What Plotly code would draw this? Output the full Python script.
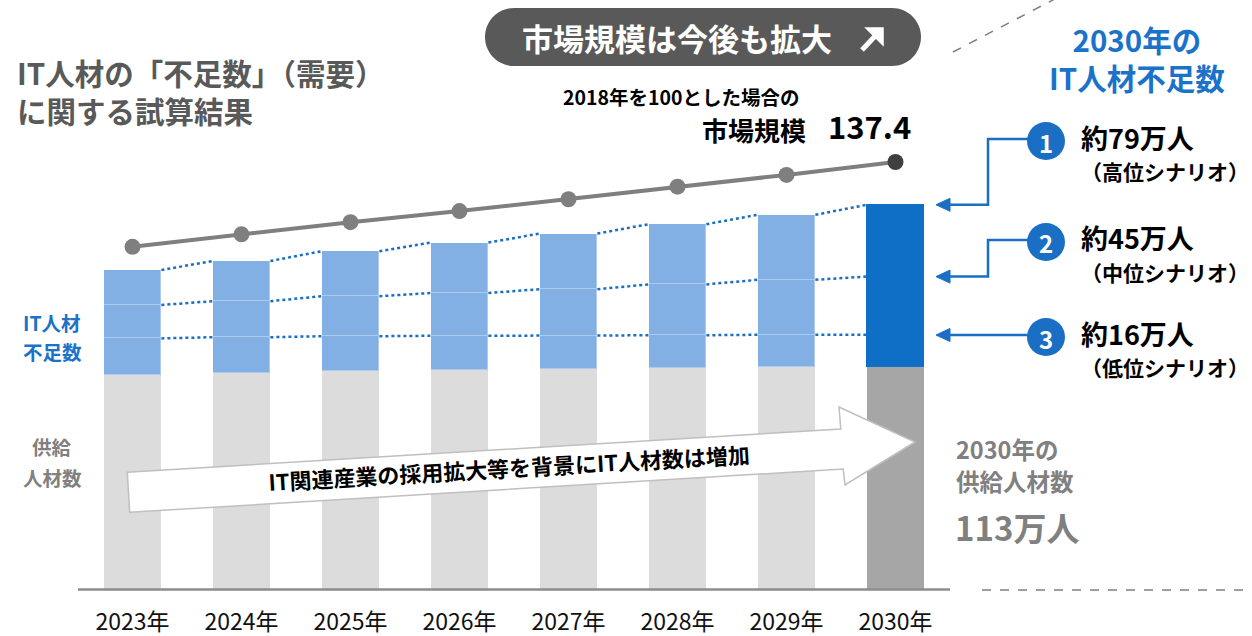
import plotly.graph_objects as go

# ---------------- data ----------------
years = ["2023年", "2024年", "2025年", "2026年", "2027年", "2028年", "2029年", "2030年"]
supply = [107.5, 108.5, 109.5, 110.0, 110.4, 110.9, 111.4, 111.7]       # 供給人材数
short_low = [18.3, 17.9, 17.4, 17.1, 16.8, 16.5, 16.2, 15.9]             # 不足数 低位
short_mid = [35.0, 35.9, 37.4, 38.5, 40.0, 41.9, 43.7, 45.0]             # 不足数 中位
short_high = [52.5, 56.0, 59.9, 63.7, 67.8, 72.0, 76.2, 80.9]            # 不足数 高位
market = [113.7, 117.2, 120.6, 123.7, 127.0, 130.5, 133.8, 137.4]        # 市場規模 (2018=100)

scenario_labels = ["約79万人", "約45万人", "約16万人"]
scenario_names = ["（高位シナリオ）", "（中位シナリオ）", "（低位シナリオ）"]

# ---------------- style ----------------
FONT = "Noto Sans CJK JP"
GRAY_BAR = "#DCDCDC"
GRAY_BAR_30 = "#A6A6A6"
BLUE_BAR = "#83B0E4"
BLUE_BAR_30 = "#0F6EC6"
BLUE = "#1A6EC4"
DARK = "#595959"

n = len(years)
xs = list(range(n))
BW = 0.53
last = n - 1

# plot area in pixels
PL, PW, PT, PH = 78, 872, 0, 590
YMAX = 295.0
Y2MIN, Y2MAX = 17.85, 182.65


def xp(px):
    return (px - PL) / PW


def yp(py):
    return (PT + PH - py) / PH


def P(px, py):
    return f"{xp(px):.5f},{yp(py):.5f}"


fig = go.Figure()

supply_col = [GRAY_BAR] * (n - 1) + [GRAY_BAR_30]
blue_col = [BLUE_BAR] * (n - 1) + [BLUE_BAR_30]
blue_line = ["rgba(255,255,255,0.35)"] * (n - 1) + [BLUE_BAR_30]

seg1 = short_low
seg2 = [m - l for m, l in zip(short_mid, short_low)]
seg3 = [h - m for h, m in zip(short_high, short_mid)]

fig.add_trace(go.Bar(x=xs, y=supply, width=BW, marker=dict(color=supply_col, line=dict(width=0)),
                     hoverinfo="skip", showlegend=False))
for seg in (seg1, seg2, seg3):
    fig.add_trace(go.Bar(x=xs, y=seg, width=BW,
                         marker=dict(color=blue_col, line=dict(color=blue_line, width=1)),
                         hoverinfo="skip", showlegend=False))

# dotted connectors between bars at each scenario level
hw = BW / 2
for sh in (short_low, short_mid, short_high):
    level = [s + v for s, v in zip(supply, sh)]
    lx, ly = [], []
    for i in range(n - 1):
        lx += [i + hw, i + 1 - hw, None]
        ly += [level[i], level[i + 1], None]
    fig.add_trace(go.Scatter(x=lx, y=ly, mode="lines", line=dict(color=BLUE, width=2.5, dash="dot"),
                             hoverinfo="skip", showlegend=False))

# market size line
fig.add_trace(go.Scatter(x=xs, y=market, yaxis="y2", mode="lines+markers",
                         line=dict(color="#7F7F7F", width=4),
                         marker=dict(size=16, color=["#7F7F7F"] * (n - 1) + ["#3F3F3F"]),
                         hoverinfo="skip", showlegend=False))

shapes = []
annotations = []


def rounded_rect(x0, y0, x1, y1, r):
    k = 0.5523 * r
    return ("M" + P(x0 + r, y0) + " L" + P(x1 - r, y0) +
            " C" + P(x1 - r + k, y0) + " " + P(x1, y0 + r - k) + " " + P(x1, y0 + r) +
            " L" + P(x1, y1 - r) +
            " C" + P(x1, y1 - r + k) + " " + P(x1 - r + k, y1) + " " + P(x1 - r, y1) +
            " L" + P(x0 + r, y1) +
            " C" + P(x0 + r - k, y1) + " " + P(x0, y1 - r + k) + " " + P(x0, y1 - r) +
            " L" + P(x0, y0 + r) +
            " C" + P(x0, y0 + r - k) + " " + P(x0 + r - k, y0) + " " + P(x0 + r, y0) + " Z")


def text(px, py, s, size, color, anchor="left", align="left"):
    annotations.append(dict(x=xp(px), y=yp(py), xref="paper", yref="paper", showarrow=False,
                            text=s, font=dict(size=size, color=color, family=FONT),
                            xanchor=anchor, yanchor="middle", align=align, borderpad=0))


# x axis base line
shapes.append(dict(type="line", xref="paper", yref="paper", x0=0, x1=1, y0=yp(589.5), y1=yp(589.5),
                   line=dict(color="#8C8C8C", width=2.5), layer="above"))

# pill header
shapes.append(dict(type="path", xref="paper", yref="paper", path=rounded_rect(485, 8, 921, 66, 29),
                   fillcolor=DARK, line=dict(width=0), layer="above"))
text(521, 38, "<b>市場規模は今後も拡大</b>", 31, "white")
# bold north-east arrow icon
shapes.append(dict(type="path", xref="paper", yref="paper",
                   path="M" + P(862, 50) + " L" + P(878, 33),
                   line=dict(color="white", width=5), layer="above"))
shapes.append(dict(type="path", xref="paper", yref="paper",
                   path="M" + P(866, 28) + " L" + P(883, 28) + " L" + P(883, 45) + " Z",
                   fillcolor="white", line=dict(color="white", width=1.5), layer="above"))

# big slanted arrow
arrow_pts = [(127.3, 472.3), (840.8, 429.0), (839.0, 407.0), (915.0, 442.0),
             (845.0, 485.0), (843.2, 469.0), (129.7, 512.3)]
apath = "M" + " L".join(P(x, y) for x, y in arrow_pts) + " Z"
shapes.append(dict(type="path", xref="paper", yref="paper", path=apath, fillcolor="white",
                   line=dict(color="#BFBFBF", width=1.5), layer="above"))
annotations.append(dict(x=xp(509), y=yp(467), xref="paper", yref="paper", showarrow=False,
                        text="<b>IT関連産業の採用拡大等を背景にIT人材数は増加</b>", textangle=-3.3,
                        font=dict(size=22, color="black", family=FONT), xanchor="center", yanchor="middle"))

# right side scenario connectors
levels_2030 = [supply[last] + short_high[last], supply[last] + short_mid[last], supply[last] + short_low[last]]
circle_y = [141, 242, 337]
tip_x, base_x, elbow_x = 936, 950, 988
for k in range(3):
    target_paper = levels_2030[k] / YMAX
    target_px = PT + PH - target_paper * PH
    cy = circle_y[k]
    if k < 2:
        path = "M" + P(1030, cy - 2) + " L" + P(elbow_x, cy - 2) + " L" + P(elbow_x, target_px) + " L" + P(base_x, target_px)
    else:
        path = "M" + P(1030, cy - 2) + " L" + P(base_x, cy - 2)
        target_px = cy - 2
    shapes.append(dict(type="path", xref="paper", yref="paper", path=path,
                       line=dict(color=BLUE, width=2.5), layer="above"))
    tri = "M" + P(tip_x, target_px) + " L" + P(base_x, target_px - 6.5) + " L" + P(base_x, target_px + 6.5) + " Z"
    shapes.append(dict(type="path", xref="paper", yref="paper", path=tri, fillcolor=BLUE,
                       line=dict(color=BLUE, width=1), layer="above"))
    shapes.append(dict(type="circle", xref="paper", yref="paper", x0=xp(1027), x1=xp(1065),
                       y0=yp(cy + 19), y1=yp(cy - 19), fillcolor=BLUE, line=dict(width=0), layer="above"))
    text(1046, cy + 1, f"<b>{k + 1}</b>", 24, "white", "center", "center")
    text(1080, cy - 4, f"<b>{scenario_labels[k]}</b>", 27, "black")
    text(1250, cy + 30, f"<b>{scenario_names[k]}</b>", 21, "black", "right", "right")

# dashed decorative lines
shapes.append(dict(type="line", xref="paper", yref="paper", x0=xp(953), y0=yp(52), x1=xp(1072), y1=yp(-10),
                   line=dict(color="#7F7F7F", width=1.5, dash="dash")))
shapes.append(dict(type="line", xref="paper", yref="paper", x0=xp(982), y0=yp(590), x1=xp(1252), y1=yp(590),
                   line=dict(color="#7F7F7F", width=1.5, dash="dash")))

# title
text(16, 91, "<b>IT人材の「不足数」（需要）</b><br><b>に関する試算結果</b>", 29.5, DARK)
# market annotation
text(681, 97, "<b>2018年を100とした場合の</b>", 19.5, "black", "center", "center")
text(807, 129, "<b>市場規模</b>", 26, "black", "right", "right")
text(827, 126, "<b>137.4</b>", 31, "black")
# right header
text(1137, 58, "<b>2030年の</b><br><b>IT人材不足数</b>", 29.5, "#1A72C9", "center", "center")
# left labels
text(52, 323, "<b>IT人材</b>", 19.5, "#1A72C9", "center", "center")
text(52, 352, "<b>不足数</b>", 19.5, "#1A72C9", "center", "center")
text(52, 447, "<b>供給</b>", 19.5, "#808080", "center", "center")
text(52, 477, "<b>人材数</b>", 19.5, "#808080", "center", "center")
# right supply labels
text(955, 449, "<b>2030年の</b>", 23.5, "#808080")
text(955, 481, "<b>供給人材数</b>", 23.5, "#808080")
text(954, 527, "<b>113万人</b>", 33, "#808080")

fig.update_layout(
    width=1252, height=636,
    margin=dict(l=PL, r=1252 - PL - PW, t=PT, b=636 - PT - PH, pad=0, autoexpand=False),
    paper_bgcolor="white", plot_bgcolor="white",
    barmode="stack", bargap=0,
    font=dict(family=FONT),
    xaxis=dict(range=[-0.5, n - 0.5], tickvals=xs, ticktext=years, showgrid=False, zeroline=False,
               showline=False, ticks="", automargin=False,
               tickfont=dict(size=23, color="#111111", family=FONT), ticklabelstandoff=16, fixedrange=True),
    yaxis=dict(range=[0, YMAX], visible=False, fixedrange=True, automargin=False),
    yaxis2=dict(range=[Y2MIN, Y2MAX], overlaying="y", visible=False, fixedrange=True, automargin=False),
    shapes=shapes, annotations=annotations,
)

fig.write_html("out.html", config={"displayModeBar": False},
               post_script="document.body.style.margin='0';document.body.style.overflow='hidden';")
